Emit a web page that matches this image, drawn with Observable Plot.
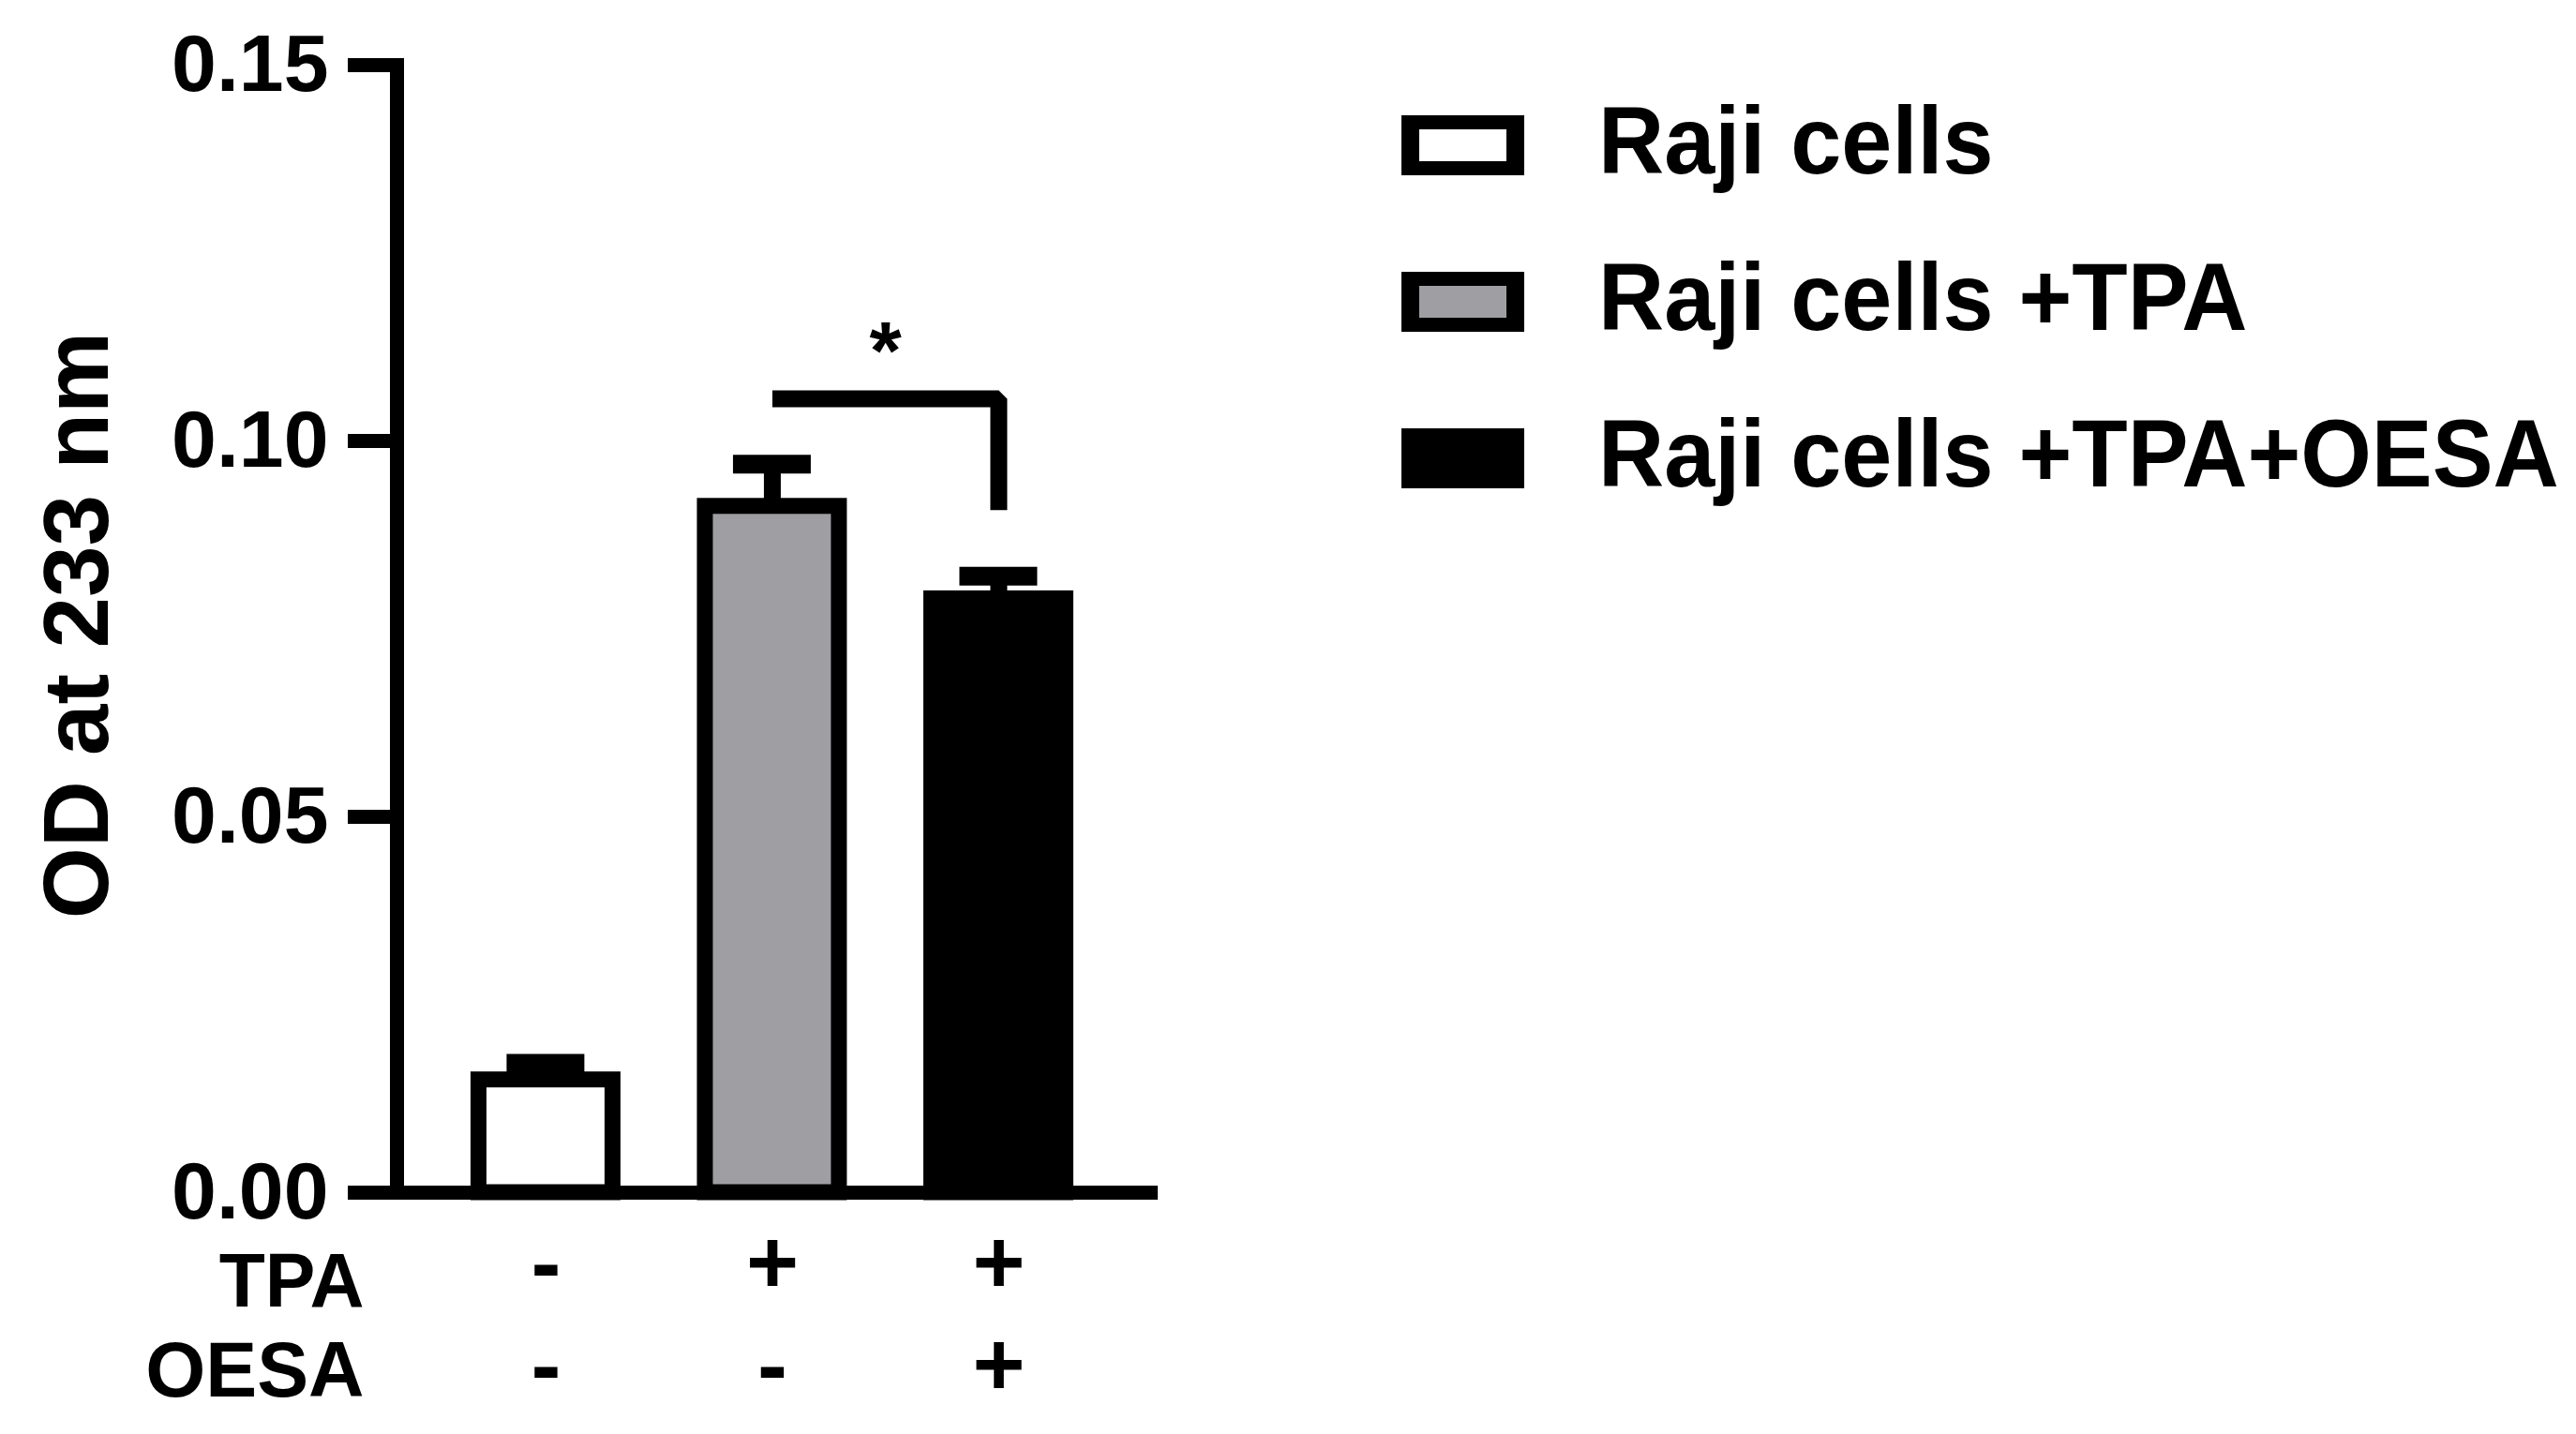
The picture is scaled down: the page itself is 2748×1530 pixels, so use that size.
<!DOCTYPE html>
<html>
<head>
<meta charset="utf-8">
<script src="https://cdn.jsdelivr.net/npm/d3@7"></script>
<script src="https://cdn.jsdelivr.net/npm/@observablehq/plot@0.6"></script>
<style>
  html, body { margin: 0; padding: 0; background: #fff; }
  #wrap { display: flex; flex-direction: row; width: 2748px; height: 1530px; font-family: "Liberation Sans", Arial, sans-serif; font-weight: bold; }
  #legend { position: relative; width: 1348px; height: 1530px; }
  .sw { position: absolute; box-sizing: border-box; width: 131px; height: 64px; border-style: solid; border-color: #000; border-width: 15px 19px; }
  .lt { position: absolute; font-size: 102px; line-height: 1; white-space: nowrap; color: #000; transform: scaleX(0.953); transform-origin: left center; }
</style>
</head>
<body>
<div id="wrap"><div id="chart"></div><div id="legend"></div></div>
<script>
// ---- data ----
const categories = ["Raji cells", "Raji cells +TPA", "Raji cells +TPA+OESA"];
const means = [0.0150, 0.0913, 0.0790];
const errors = [0.0022, 0.0056, 0.0030];
const fills = ["#ffffff", "#9f9fa3", "#000000"];
const tpaSigns = ["-", "+", "+"];
const oesaSigns = ["-", "-", "+"];
const rowLabels = ["TPA", "OESA"];
const yTicks = [0, 0.05, 0.10, 0.15];
const yLabel = "OD at 233 nm";
const bracketX = [categories[1], categories[2], categories[2]];
const bracketY = [0.1056, 0.1056, 0.0908];
const sigLabel = "*";
const sigY = 0.1161;

// ---- layout ----
const W = 1400, H = 1530;
const M = {top: 69, bottom: 258, left: 423, right: 165};
const pInner = 0.408, pOuter = 0.385, bandAlign = 0.47;
const step = (W - M.left - M.right) / (categories.length - pInner + 2 * pOuter);

const data = categories.map((c, i) => ({category: c, mean: means[i], err: errors[i], fill: fills[i]}));
const bracket = bracketX.map((x, i) => ({x, y: bracketY[i]}));

const chart = Plot.plot({
  width: W,
  height: H,
  marginTop: M.top,
  marginBottom: M.bottom,
  marginLeft: M.left,
  marginRight: M.right,
  style: {fontFamily: "'Liberation Sans', Arial, sans-serif", fontWeight: "bold", background: "#fff", overflow: "visible", color: "#000"},
  x: {type: "band", domain: categories, paddingInner: pInner, paddingOuter: pOuter, align: bandAlign, round: false},
  y: {domain: [0, 0.15]},
  color: {type: "identity"},
  marks: [
    // error bars
    Plot.ruleX(data, {x: "category", y1: "mean", y2: d => d.mean + d.err, stroke: "#000", strokeWidth: 18}),
    Plot.tickY(data, {x: "category", y: d => d.mean + d.err, stroke: "#000", strokeWidth: 20, inset: 30}),
    // bars
    Plot.barY(data, {x: "category", y: "mean", fill: "fill", stroke: "#000", strokeWidth: 17}),
    // axes
    Plot.ruleY([0], {stroke: "#000", strokeWidth: 15}),
    Plot.frame({anchor: "left", stroke: "#000", strokeWidth: 15, strokeLinecap: "square"}),
    Plot.axisY({ticks: yTicks, tickFormat: d3.format(".2f"), tickSize: 52, tickPadding: 21, stroke: "#000", strokeWidth: 15, fontSize: 86, fontWeight: "bold", label: null}),
    Plot.text([yLabel], {frameAnchor: "left", rotate: -90, dx: -340, dy: -4, fontSize: 98, fontWeight: "bold", textAnchor: "middle", lineAnchor: "middle", text: d => d}),
    // condition rows
    Plot.axisX({tickFormat: d => tpaSigns[categories.indexOf(d)], tickSize: 0, tickPadding: 39, fontSize: 96, fontWeight: "bold", label: null}),
    Plot.axisX({tickFormat: d => oesaSigns[categories.indexOf(d)], tickSize: 0, tickPadding: 148, fontSize: 96, fontWeight: "bold", label: null}),
    Plot.text([rowLabels[0]], {frameAnchor: "bottom-left", textAnchor: "end", lineAnchor: "top", dx: -35, dy: 63, fontSize: 82, fontWeight: "bold", text: d => d}),
    Plot.text([rowLabels[1]], {frameAnchor: "bottom-left", textAnchor: "end", lineAnchor: "top", dx: -35, dy: 158, fontSize: 84, fontWeight: "bold", text: d => d}),
    // significance bracket
    Plot.line(bracket, {x: "x", y: "y", stroke: "#000", strokeWidth: 18, strokeLinejoin: "miter", strokeLinecap: "butt"}),
    Plot.text([sigLabel], {x: () => categories[2], y: () => sigY, dx: -step / 2, text: d => d, lineAnchor: "top", fontSize: 88, fontWeight: "bold"})
  ]
});
document.getElementById("chart").appendChild(chart);

// slightly condensed row labels, as in the reference
chart.querySelectorAll("text").forEach(t => {
  if (rowLabels.includes(t.textContent)) {
    const tr = t.getAttribute("transform") || "";
    t.setAttribute("transform", tr + " scale(0.98,1)");
  }
});

// ---- legend ----
const legend = document.getElementById("legend");
const legTop = 123, legGap = 167, swLeft = 95, txtLeft = 305;
categories.forEach((c, i) => {
  const sw = document.createElement("div");
  sw.className = "sw";
  sw.style.left = swLeft + "px";
  sw.style.top = (legTop + i * legGap) + "px";
  sw.style.background = fills[i];
  legend.appendChild(sw);
  const t = document.createElement("div");
  t.className = "lt";
  t.style.left = txtLeft + "px";
  t.style.top = (legTop + i * legGap - 24) + "px";
  t.textContent = c;
  legend.appendChild(t);
});
</script>
</body>
</html>
